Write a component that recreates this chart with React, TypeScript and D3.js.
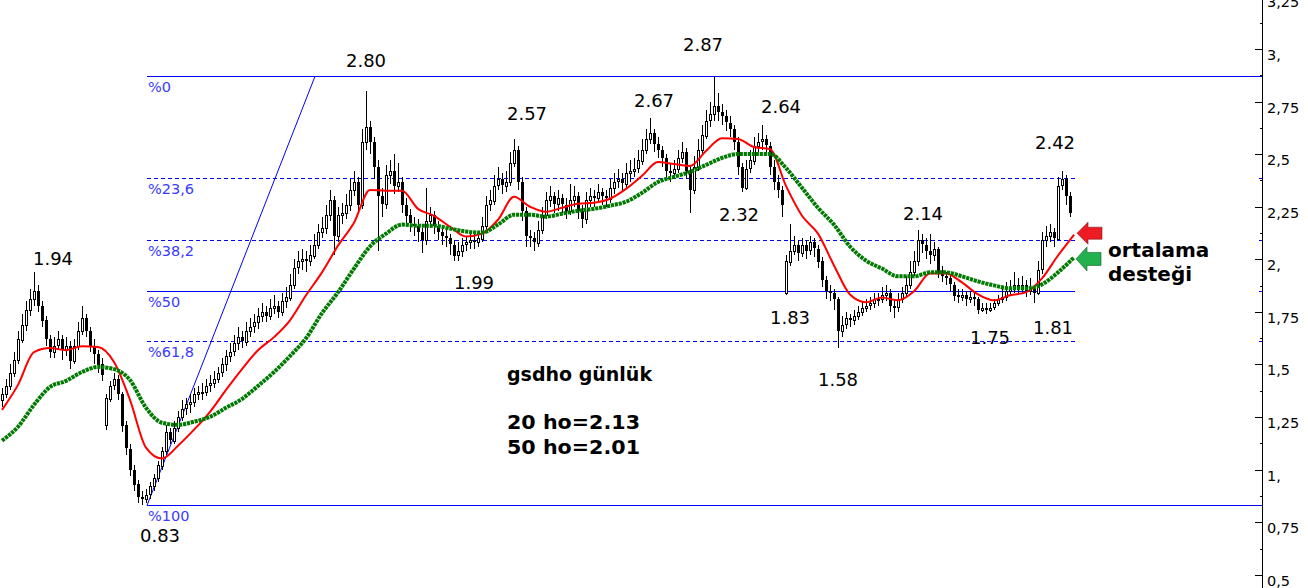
import React, { useEffect, useRef } from 'react';
import * as d3 from 'd3';

// daily candles, oldest first
const opens = [
  1.33, 1.36, 1.40, 1.46, 1.52, 1.62, 1.69, 1.76, 1.81, 1.85,
  1.78, 1.71, 1.62, 1.56, 1.59, 1.62, 1.57, 1.59, 1.52, 1.59,
  1.66, 1.72, 1.66, 1.59, 1.55, 1.50, 1.21, 1.34, 1.40, 1.43,
  1.36, 1.21, 1.10, 1.00, 0.93, 0.87, 0.86, 0.88, 0.92, 0.96,
  1.02, 1.09, 1.18, 1.14, 1.20, 1.25, 1.29, 1.31, 1.32, 1.36,
  1.37, 1.37, 1.40, 1.41, 1.43, 1.46, 1.50, 1.54, 1.56, 1.60,
  1.63, 1.61, 1.66, 1.68, 1.70, 1.73, 1.75, 1.73, 1.77, 1.78,
  1.75, 1.80, 1.82, 1.88, 1.96, 1.99, 2.00, 1.99, 2.02, 2.07,
  2.13, 2.15, 2.21, 2.28, 2.11, 2.21, 2.22, 2.26, 2.33, 2.37,
  2.26, 2.56, 2.63, 2.56, 2.44, 2.30, 2.26, 2.40, 2.42, 2.35,
  2.37, 2.26, 2.21, 2.17, 2.16, 2.13, 2.09, 2.18, 2.21, 2.16,
  2.13, 2.11, 2.10, 2.07, 2.02, 2.04, 2.07, 2.08, 2.09, 2.08,
  2.10, 2.16, 2.26, 2.28, 2.35, 2.38, 2.35, 2.37, 2.46, 2.52,
  2.37, 2.23, 2.11, 2.10, 2.08, 2.14, 2.21, 2.28, 2.30, 2.26,
  2.29, 2.26, 2.23, 2.28, 2.30, 2.23, 2.19, 2.28, 2.30, 2.29,
  2.32, 2.30, 2.29, 2.34, 2.37, 2.38, 2.36, 2.41, 2.42, 2.43,
  2.47, 2.52, 2.57, 2.60, 2.55, 2.52, 2.48, 2.42, 2.41, 2.43,
  2.48, 2.51, 2.42, 2.33, 2.44, 2.52, 2.59, 2.66, 2.69, 2.73,
  2.70, 2.68, 2.65, 2.62, 2.56, 2.44, 2.34, 2.43, 2.47, 2.54,
  2.56, 2.57, 2.54, 2.44, 2.37, 2.33, 1.84, 1.99, 2.04, 2.07,
  2.03, 2.07, 2.04, 2.08, 2.05, 1.99, 1.90, 1.85, 1.84, 1.81,
  1.66, 1.69, 1.72, 1.71, 1.73, 1.75, 1.77, 1.78, 1.79, 1.81,
  1.81, 1.83, 1.84, 1.78, 1.77, 1.81, 1.84, 1.88, 1.94, 1.99,
  2.09, 2.07, 2.04, 2.02, 2.05, 1.94, 1.92, 1.91, 1.88, 1.83,
  1.82, 1.83, 1.81, 1.82, 1.81, 1.76, 1.77, 1.76, 1.77, 1.79,
  1.81, 1.82, 1.85, 1.86, 1.88, 1.86, 1.88, 1.85, 1.86, 1.84,
  1.95, 2.09, 2.11, 2.13, 2.10, 2.35, 2.38, 2.30,
];

const highs = [
  1.39, 1.43, 1.50, 1.56, 1.66, 1.74, 1.80, 1.86, 1.94, 1.88,
  1.80, 1.73, 1.64, 1.63, 1.66, 1.64, 1.63, 1.61, 1.62, 1.70,
  1.78, 1.74, 1.68, 1.62, 1.57, 1.53, 1.36, 1.42, 1.46, 1.45,
  1.37, 1.23, 1.12, 1.02, 0.95, 0.90, 0.91, 0.94, 0.98, 1.04,
  1.11, 1.21, 1.20, 1.23, 1.28, 1.33, 1.34, 1.36, 1.39, 1.40,
  1.41, 1.43, 1.45, 1.47, 1.49, 1.53, 1.57, 1.60, 1.64, 1.68,
  1.66, 1.70, 1.72, 1.74, 1.77, 1.79, 1.78, 1.81, 1.83, 1.80,
  1.84, 1.87, 1.93, 2.00, 2.04, 2.05, 2.04, 2.07, 2.12, 2.17,
  2.20, 2.26, 2.33, 2.30, 2.25, 2.27, 2.31, 2.38, 2.42, 2.39,
  2.62, 2.80, 2.66, 2.58, 2.47, 2.34, 2.45, 2.47, 2.50, 2.46,
  2.39, 2.29, 2.24, 2.20, 2.19, 2.15, 2.34, 2.25, 2.23, 2.18,
  2.16, 2.14, 2.12, 2.09, 2.08, 2.10, 2.11, 2.12, 2.12, 2.13,
  2.20, 2.30, 2.33, 2.40, 2.44, 2.41, 2.42, 2.51, 2.57, 2.54,
  2.39, 2.25, 2.14, 2.13, 2.18, 2.25, 2.32, 2.35, 2.32, 2.33,
  2.31, 2.29, 2.36, 2.35, 2.32, 2.26, 2.32, 2.34, 2.33, 2.36,
  2.34, 2.33, 2.38, 2.41, 2.43, 2.41, 2.46, 2.47, 2.48, 2.52,
  2.57, 2.62, 2.67, 2.62, 2.58, 2.54, 2.50, 2.46, 2.47, 2.52,
  2.56, 2.53, 2.45, 2.49, 2.57, 2.64, 2.71, 2.75, 2.87, 2.79,
  2.74, 2.71, 2.68, 2.64, 2.58, 2.46, 2.47, 2.52, 2.58, 2.60,
  2.64, 2.59, 2.56, 2.47, 2.40, 2.35, 2.02, 2.17, 2.11, 2.09,
  2.10, 2.09, 2.11, 2.10, 2.07, 2.01, 1.92, 1.88, 1.86, 1.82,
  1.73, 1.75, 1.74, 1.76, 1.78, 1.80, 1.81, 1.82, 1.84, 1.84,
  1.87, 1.88, 1.86, 1.80, 1.84, 1.87, 1.92, 1.99, 2.04, 2.14,
  2.12, 2.10, 2.12, 2.08, 2.06, 1.97, 1.94, 1.93, 1.89, 1.86,
  1.86, 1.85, 1.85, 1.84, 1.82, 1.79, 1.79, 1.79, 1.81, 1.83,
  1.86, 1.89, 1.90, 1.94, 1.91, 1.92, 1.90, 1.91, 1.88, 1.99,
  2.13, 2.16, 2.17, 2.15, 2.39, 2.42, 2.40, 2.32,
];

const lows = [
  1.30, 1.34, 1.38, 1.44, 1.50, 1.60, 1.66, 1.73, 1.78, 1.75,
  1.68, 1.59, 1.53, 1.53, 1.57, 1.52, 1.54, 1.48, 1.50, 1.57,
  1.64, 1.63, 1.56, 1.50, 1.46, 1.42, 1.19, 1.32, 1.38, 1.33,
  1.18, 1.07, 0.97, 0.90, 0.84, 0.83, 0.84, 0.86, 0.90, 0.94,
  1.00, 1.07, 1.12, 1.12, 1.18, 1.23, 1.26, 1.27, 1.30, 1.33,
  1.33, 1.35, 1.37, 1.39, 1.41, 1.44, 1.47, 1.51, 1.54, 1.57,
  1.58, 1.59, 1.63, 1.65, 1.67, 1.70, 1.70, 1.71, 1.74, 1.72,
  1.73, 1.77, 1.80, 1.86, 1.93, 1.95, 1.94, 1.97, 2.00, 2.05,
  2.10, 2.12, 2.18, 2.02, 2.08, 2.17, 2.19, 2.23, 2.30, 2.22,
  2.24, 2.52, 2.50, 2.38, 2.04, 2.20, 2.24, 2.36, 2.31, 2.32,
  2.22, 2.17, 2.13, 2.11, 2.08, 2.03, 2.07, 2.15, 2.12, 2.09,
  2.07, 2.06, 2.02, 1.99, 1.99, 2.01, 2.04, 2.05, 2.05, 2.06,
  2.08, 2.14, 2.23, 2.26, 2.33, 2.31, 2.32, 2.35, 2.44, 2.33,
  2.18, 2.06, 2.06, 2.04, 2.06, 2.12, 2.19, 2.25, 2.22, 2.23,
  2.22, 2.19, 2.21, 2.25, 2.19, 2.15, 2.17, 2.25, 2.25, 2.27,
  2.26, 2.25, 2.27, 2.31, 2.34, 2.32, 2.34, 2.37, 2.39, 2.41,
  2.45, 2.50, 2.55, 2.51, 2.48, 2.44, 2.38, 2.37, 2.38, 2.41,
  2.46, 2.38, 2.22, 2.31, 2.42, 2.50, 2.57, 2.63, 2.66, 2.66,
  2.64, 2.61, 2.58, 2.52, 2.40, 2.32, 2.33, 2.41, 2.45, 2.51,
  2.52, 2.50, 2.40, 2.33, 2.29, 2.20, 1.83, 1.97, 2.02, 1.99,
  2.01, 2.00, 2.02, 2.01, 1.96, 1.87, 1.81, 1.80, 1.76, 1.58,
  1.63, 1.67, 1.68, 1.69, 1.71, 1.73, 1.75, 1.76, 1.77, 1.78,
  1.79, 1.80, 1.75, 1.72, 1.75, 1.79, 1.82, 1.86, 1.92, 1.97,
  2.03, 2.00, 1.98, 1.99, 1.91, 1.89, 1.88, 1.85, 1.80, 1.79,
  1.80, 1.78, 1.79, 1.78, 1.74, 1.75, 1.74, 1.75, 1.76, 1.78,
  1.79, 1.80, 1.83, 1.84, 1.83, 1.84, 1.82, 1.83, 1.79, 1.83,
  1.93, 2.06, 2.08, 2.06, 2.09, 2.33, 2.26, 2.20,
];

const closes = [
  1.36, 1.40, 1.46, 1.52, 1.62, 1.69, 1.76, 1.81, 1.85, 1.78,
  1.71, 1.62, 1.56, 1.59, 1.62, 1.57, 1.59, 1.52, 1.59, 1.66,
  1.72, 1.66, 1.59, 1.55, 1.50, 1.45, 1.34, 1.40, 1.43, 1.36,
  1.21, 1.10, 1.00, 0.93, 0.87, 0.86, 0.88, 0.92, 0.96, 1.02,
  1.09, 1.18, 1.14, 1.20, 1.25, 1.29, 1.31, 1.32, 1.36, 1.37,
  1.37, 1.40, 1.41, 1.43, 1.46, 1.50, 1.54, 1.56, 1.60, 1.63,
  1.61, 1.66, 1.68, 1.70, 1.73, 1.75, 1.73, 1.77, 1.78, 1.75,
  1.80, 1.82, 1.88, 1.96, 1.99, 2.00, 1.99, 2.02, 2.07, 2.13,
  2.15, 2.21, 2.28, 2.11, 2.21, 2.22, 2.26, 2.33, 2.37, 2.26,
  2.56, 2.63, 2.56, 2.44, 2.30, 2.26, 2.40, 2.42, 2.35, 2.37,
  2.26, 2.21, 2.17, 2.16, 2.13, 2.09, 2.18, 2.21, 2.16, 2.13,
  2.11, 2.10, 2.07, 2.02, 2.04, 2.07, 2.08, 2.09, 2.08, 2.10,
  2.16, 2.26, 2.28, 2.35, 2.38, 2.35, 2.37, 2.46, 2.52, 2.37,
  2.23, 2.11, 2.10, 2.08, 2.14, 2.21, 2.28, 2.30, 2.26, 2.29,
  2.26, 2.23, 2.28, 2.30, 2.23, 2.19, 2.28, 2.30, 2.29, 2.32,
  2.30, 2.29, 2.34, 2.37, 2.38, 2.36, 2.41, 2.42, 2.43, 2.47,
  2.52, 2.57, 2.60, 2.55, 2.52, 2.48, 2.42, 2.41, 2.43, 2.48,
  2.51, 2.42, 2.33, 2.44, 2.52, 2.59, 2.66, 2.69, 2.73, 2.70,
  2.68, 2.65, 2.62, 2.56, 2.44, 2.34, 2.43, 2.47, 2.54, 2.56,
  2.57, 2.54, 2.44, 2.37, 2.33, 2.26, 1.99, 2.04, 2.07, 2.03,
  2.07, 2.04, 2.08, 2.05, 1.99, 1.90, 1.85, 1.84, 1.81, 1.66,
  1.69, 1.72, 1.71, 1.73, 1.75, 1.77, 1.78, 1.79, 1.81, 1.81,
  1.83, 1.84, 1.78, 1.77, 1.81, 1.84, 1.88, 1.94, 1.99, 2.09,
  2.07, 2.04, 2.02, 2.05, 1.94, 1.92, 1.91, 1.88, 1.83, 1.82,
  1.83, 1.81, 1.82, 1.81, 1.76, 1.77, 1.76, 1.77, 1.79, 1.81,
  1.82, 1.85, 1.86, 1.88, 1.86, 1.88, 1.85, 1.86, 1.84, 1.95,
  2.09, 2.11, 2.13, 2.10, 2.35, 2.38, 2.30, 2.22,
];

// moving averages read every 4th session
const maStep = 4;
const ma20 = [
  1.284, 1.403, 1.559, 1.578, 1.568, 1.587, 1.583, 1.512, 1.332, 1.105,
  1.053, 1.114, 1.190, 1.275, 1.379, 1.478, 1.568, 1.630, 1.710, 1.829,
  1.938, 2.065, 2.174, 2.330, 2.326, 2.326, 2.240, 2.207, 2.155, 2.108,
  2.122, 2.188, 2.297, 2.250, 2.226, 2.245, 2.264, 2.269, 2.288, 2.335,
  2.397, 2.463, 2.453, 2.444, 2.515, 2.576, 2.572, 2.534, 2.524, 2.349,
  2.207, 2.122, 1.971, 1.833, 1.796, 1.819, 1.805, 1.848, 1.933, 1.933,
  1.890, 1.833, 1.805, 1.829, 1.843, 1.909, 2.018, 2.117,
];
const ma50 = [
  1.138, 1.204, 1.308, 1.393, 1.422, 1.464, 1.488, 1.478, 1.426, 1.294,
  1.223, 1.213, 1.228, 1.251, 1.294, 1.336, 1.398, 1.464, 1.540, 1.625,
  1.744, 1.843, 1.956, 2.061, 2.122, 2.165, 2.160, 2.160, 2.146, 2.132,
  2.127, 2.165, 2.212, 2.212, 2.203, 2.217, 2.231, 2.240, 2.255, 2.274,
  2.316, 2.368, 2.392, 2.416, 2.449, 2.482, 2.501, 2.501, 2.501, 2.434,
  2.340, 2.245, 2.165, 2.061, 1.994, 1.956, 1.919, 1.919, 1.938, 1.938,
  1.919, 1.895, 1.876, 1.862, 1.862, 1.881, 1.938, 2.009,
];

// fibonacci retracement 0.83 -> 2.87
const fibLow = 0.83;
const fibHigh = 2.87;
const fibRatios = [0, 0.236, 0.382, 0.5, 0.618, 1];

const axisTicks = [3.25, 3, 2.75, 2.5, 2.25, 2, 1.75, 1.5, 1.25, 1, 0.75, 0.5];
const axisLabels = ['3,25', '3,', '2,75', '2,5', '2,25', '2,', '1,75', '1,5', '1,25', '1,', '0,75', '0,5'];

const peakValues = [1.94, 2.80, 2.57, 2.67, 2.87, 2.64, 2.14, 2.42];
const troughValues = [0.83, 1.99, 2.32, 1.83, 1.58, 1.75, 1.81];

const title = 'gsdho günlük';
const maNotes = ['20 ho=2.13', '50 ho=2.01'];
const sideNote = ['ortalama', 'desteği'];

const FONT = '"DejaVu Sans", Verdana, sans-serif';

export default function App() {
  const svgRef = useRef<SVGSVGElement>(null);

  useEffect(() => {
    if (!svgRef.current) return;
    const svg = d3.select(svgRef.current);
    svg.selectAll('*').remove();

    const axisX = 1262.5;
    const x = d3.scaleLinear().domain([0, closes.length - 1]).range([2, 1070]);
    const y = d3.scaleLinear().domain([0.5, 3]).range([574.8, 49]);
    const crisp = (v: number) => Math.round(v) + 0.5;

    svg.append('rect').attr('width', 1308).attr('height', 588).attr('fill', '#fff');

    // fibonacci levels
    const fibStart = 36.25;
    const fibEnd = 268.25;
    const trendEnd = 78.25;
    const fib = svg.append('g');
    fibRatios.forEach(r => {
      const v = fibHigh - r * (fibHigh - fibLow);
      const yy = crisp(y(v));
      const solid = r === 0 || r === 1 || r === 0.5;
      fib.append('line')
        .attr('x1', x(fibStart)).attr('x2', r === 0 || r === 1 ? axisX : x(fibEnd))
        .attr('y1', yy).attr('y2', yy)
        .attr('stroke', '#0000ff').attr('stroke-width', 1)
        .attr('stroke-dasharray', solid ? null : '4,3')
        .attr('shape-rendering', 'crispEdges');
      fib.append('line')
        .attr('x1', axisX - 4).attr('x2', axisX).attr('y1', yy).attr('y2', yy)
        .attr('stroke', '#0000ff').attr('shape-rendering', 'crispEdges');
      fib.append('text')
        .attr('x', x(fibStart) + 1).attr('y', yy + 15)
        .attr('font-family', FONT).attr('font-size', 14.5)
        .attr('fill', '#3a3aff')
        .text(`%${String(+(r * 100).toFixed(1)).replace('.', ',')}`);
    });
    fib.append('line')
      .attr('x1', x(fibStart)).attr('y1', y(fibLow))
      .attr('x2', x(trendEnd)).attr('y2', y(fibHigh))
      .attr('stroke', '#0000ff').attr('stroke-width', 1);

    // candles
    const cg = svg.append('g').attr('shape-rendering', 'crispEdges');
    closes.forEach((c, i) => {
      const o = opens[i];
      const cx = Math.round(x(i));
      cg.append('line')
        .attr('x1', cx + 0.5).attr('x2', cx + 0.5)
        .attr('y1', y(highs[i])).attr('y2', y(lows[i]))
        .attr('stroke', '#000');
      const top = y(Math.max(o, c));
      const bot = y(Math.min(o, c));
      if (c >= o) {
        cg.append('rect')
          .attr('x', cx - 0.5).attr('width', 2)
          .attr('y', Math.round(top) + 0.5).attr('height', Math.max(1, Math.round(bot - top)))
          .attr('fill', '#fff').attr('stroke', '#000').attr('stroke-width', 1);
      } else {
        cg.append('rect')
          .attr('x', cx - 1).attr('width', 3)
          .attr('y', Math.round(top)).attr('height', Math.max(1, Math.round(bot - top)))
          .attr('fill', '#000');
      }
    });

    // moving averages
    const line = d3.line<number>()
      .x((_, k) => x(k * maStep))
      .y(d => y(d))
      .curve(d3.curveMonotoneX);
    svg.append('path').datum(ma20)
      .attr('d', line).attr('fill', 'none')
      .attr('stroke', '#ff0000').attr('stroke-width', 2);
    svg.append('path').datum(ma50)
      .attr('d', line).attr('fill', 'none')
      .attr('stroke', '#007a00').attr('stroke-width', 4)
      .attr('stroke-dasharray', '3.2,0.8');

    // high / low labels
    const peakSpots = [[8, 19, -7], [91, 0, -24], [128, 13, -19], [162, 4, -11], [178, -11, -25], [190, 19, -12], [229, 5, -10], [265, -7, -22]];
    const troughSpots = [[35, 18, 37], [113, 20, 28], [185, -3, 29], [196, 4, 29], [209, 0, 38], [244, 12, 32], [258, 19, 35]];
    const labels = svg.append('g')
      .attr('font-family', FONT).attr('font-size', 18)
      .attr('fill', '#000').attr('text-anchor', 'middle');
    peakValues.forEach((v, k) => {
      const [i, dx, dy] = peakSpots[k];
      labels.append('text').attr('x', x(i) + dx).attr('y', y(v) + dy).text(v.toFixed(2));
    });
    troughValues.forEach((v, k) => {
      const [i, dx, dy] = troughSpots[k];
      labels.append('text').attr('x', x(i) + dx).attr('y', y(v) + dy).text(v.toFixed(2));
    });

    // notes
    const notes = svg.append('g')
      .attr('font-family', FONT).attr('font-weight', 'bold')
      .attr('font-size', 19).attr('fill', '#000');
    notes.append('text').attr('x', 507).attr('y', 381).text(title);
    maNotes.forEach((t, k) => {
      notes.append('text').attr('x', 507).attr('y', 429 + k * 25)
        .attr('textLength', 133).attr('lengthAdjust', 'spacingAndGlyphs').text(t);
    });
    sideNote.forEach((t, k) => {
      notes.append('text').attr('x', 1108).attr('y', 257 + k * 24)
        .attr('font-size', 20).text(t);
    });

    // arrows pointing at the averages
    const endX = x((ma20.length - 1) * maStep);
    const arrow = (tx: number, ty: number, head: number, shaft: number) =>
      `M${tx},${ty} L${tx + 11},${ty - head} L${tx + 11},${ty - shaft} L${tx + 25},${ty - shaft} ` +
      `L${tx + 25},${ty + shaft} L${tx + 11},${ty + shaft} L${tx + 11},${ty + head} Z`;
    svg.append('path')
      .attr('d', arrow(endX + 3, y(ma20[ma20.length - 1]) - 1.5, 11, 6))
      .attr('fill', '#ed1c24').attr('stroke', '#7a1a20').attr('stroke-width', 0.6);
    svg.append('path')
      .attr('d', arrow(endX + 2, y(ma50[ma50.length - 1]) + 1.5, 12, 6.5))
      .attr('fill', '#22b14c').attr('stroke', '#145c2a').attr('stroke-width', 0.6);

    // right axis
    const ax = svg.append('g').attr('shape-rendering', 'crispEdges');
    ax.append('line')
      .attr('x1', axisX).attr('x2', axisX).attr('y1', 0).attr('y2', 588)
      .attr('stroke', '#000');
    axisTicks.forEach((v, k) => {
      const yy = crisp(y(v));
      ax.append('line').attr('x1', axisX - 8).attr('x2', axisX).attr('y1', yy).attr('y2', yy).attr('stroke', '#000');
      const ym = crisp(y(v - 0.125));
      if (v > 0.5) ax.append('line').attr('x1', axisX - 3).attr('x2', axisX).attr('y1', ym).attr('y2', ym).attr('stroke', '#000');
      svg.append('text')
        .attr('x', axisX + 4.5).attr('y', yy + 10.5)
        .attr('font-family', FONT).attr('font-size', 14.5).attr('fill', '#000')
        .text(axisLabels[k]);
    });
  }, []);

  return (
    <svg
      ref={svgRef}
      width={1308}
      height={588}
      style={{ position: 'fixed', left: 0, top: 0, background: '#fff' }}
    />
  );
}
